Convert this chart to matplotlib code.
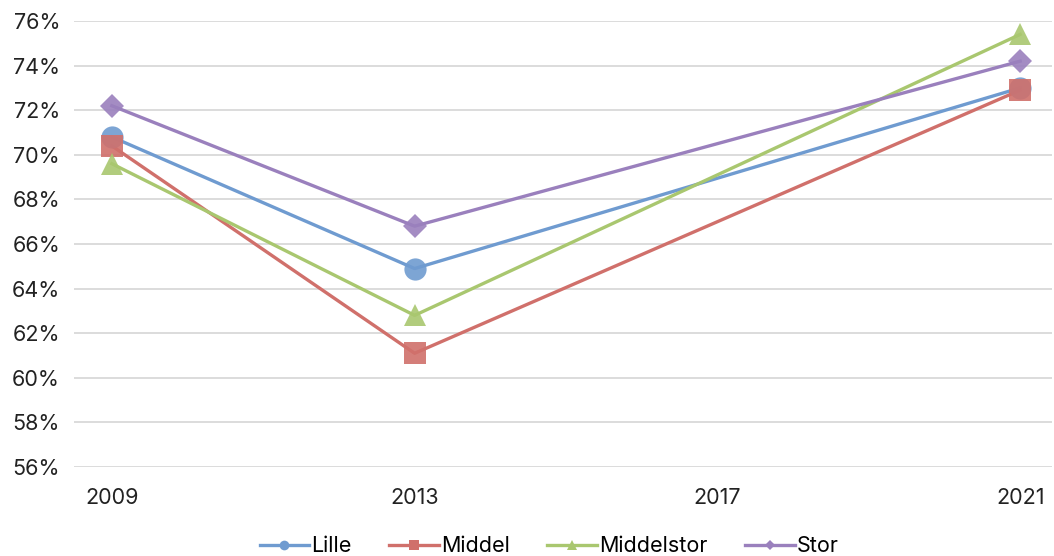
import matplotlib.pyplot as plt
from matplotlib.lines import Line2D
from matplotlib.ticker import FuncFormatter

plt.rcParams["font.family"] = ["Inter", "DejaVu Sans"]

years = ["2009", "2013", "2017", "2021"]
x_idx = [0, 1, 3]  # no data for 2017

lille = [70.8, 64.9, 73.0]
middel = [70.4, 61.1, 72.9]
middelstor = [69.6, 62.8, 75.4]
stor = [72.2, 66.8, 74.2]

series = [
  ("Lille", lille, "#6f9bd0", "o", 16, 7),
  ("Middel", middel, "#d0706b", "s", 16, 7),
  ("Middelstor", middelstor, "#a9c76f", "^", 16, 7),
  ("Stor", stor, "#9a80bd", "D", 12, 5),
]

fig = plt.figure(figsize=(10.54, 5.56), dpi=100)
ax = fig.add_axes([74 / 1054, 1 - 467 / 556, (1052 - 74) / 1054, (467 - 21) / 556])

handles = []
for name, vals, color, marker, ms, lms in series:
  ax.plot(x_idx, vals, color=color, linewidth=2.4, zorder=2)
  ax.plot(x_idx, vals, linestyle="none", marker=marker, markersize=ms,
          color=color, alpha=0.9, markeredgewidth=0, zorder=3)
  handles.append(Line2D([0], [0], color=color, linewidth=2.4, marker=marker,
                        markersize=lms, markeredgewidth=0, label=name))

ax.set_xlim(-0.125, 3.105)
ax.set_ylim(56, 76)
ax.set_yticks(range(56, 77, 2))
ax.yaxis.set_major_formatter(FuncFormatter(lambda v, p: f"{v:.0f}%"))
ax.set_xticks(range(len(years)))
ax.set_xticklabels(years)
ax.grid(axis="y", color="#d9d9d9", linewidth=1.3, zorder=0)
for s in ax.spines.values():
  s.set_visible(False)
ax.tick_params(axis="both", length=0, labelsize=15.5, colors="#222222")
ax.tick_params(axis="x", pad=15)
ax.tick_params(axis="y", pad=10)

fig.legend(handles=handles, loc="lower center", bbox_to_anchor=(0.521, -0.035),
           ncol=4, frameon=False, fontsize=15.5, handlelength=2.3,
           columnspacing=1.75, handletextpad=0.1)

fig.savefig("out.png", dpi=100)
